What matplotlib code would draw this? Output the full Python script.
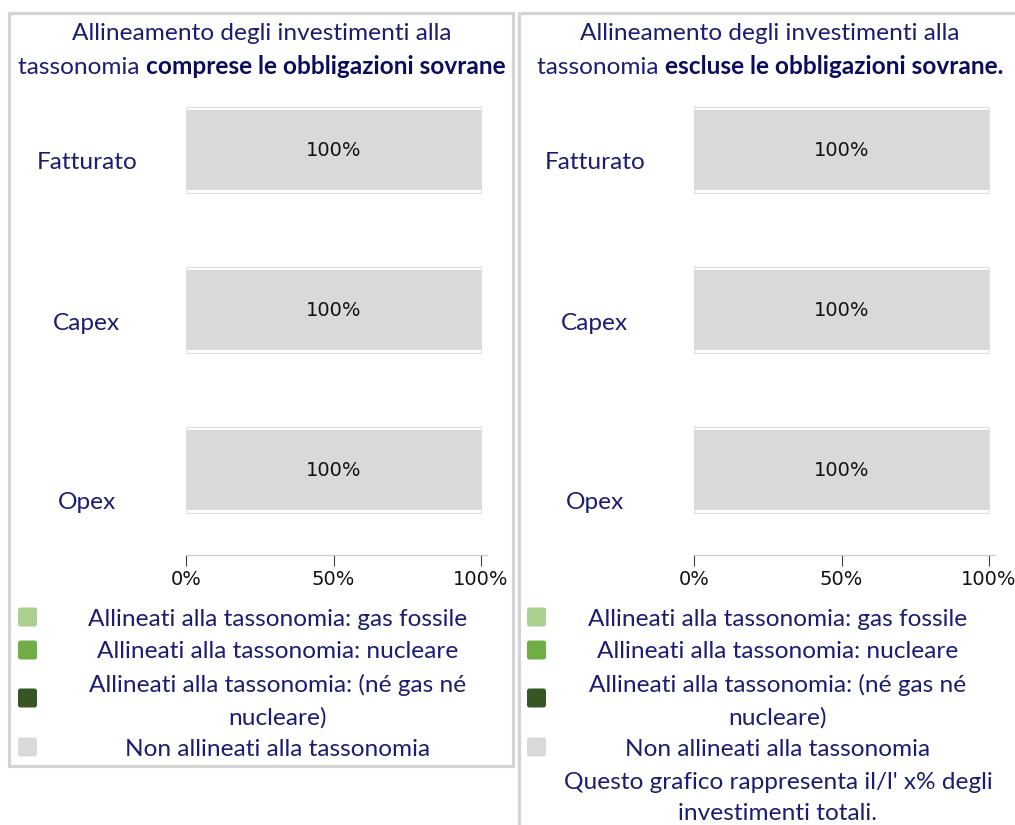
import matplotlib
matplotlib.use('Agg')
import matplotlib.pyplot as plt
from matplotlib.patches import Rectangle, FancyBboxPatch
from matplotlib.lines import Line2D
from matplotlib.transforms import ScaledTranslation, blended_transform_factory

# data
categories = ['Fatturato', 'Capex', 'Opex']
series_names = ['Allineati alla tassonomia: gas fossile',
                'Allineati alla tassonomia: nucleare',
                'Allineati alla tassonomia: (né gas né\nnucleare)',
                'Non allineati alla tassonomia']
series_colors = ['#a9d08e', '#70ad47', '#375623', '#d9d9d9']

gas_incl = [0, 0, 0]
nuc_incl = [0, 0, 0]
other_incl = [0, 0, 0]
non_incl = [100, 100, 100]

gas_excl = [0, 0, 0]
nuc_excl = [0, 0, 0]
other_excl = [0, 0, 0]
non_excl = [100, 100, 100]

xticks = [0, 50, 100]
xtick_labels = ['0%', '50%', '100%']

title_plain = 'Allineamento degli investimenti alla'
title_start = 'tassonomia '
title_bold = ['comprese le obbligazioni sovrane', 'escluse le obbligazioni sovrane.']
note = "Questo grafico rappresenta il/l' x% degli\ninvestimenti totali."

W, H = 1015, 825
NAVY = '#1c1c73'
NAVY_B = '#0c0c5c'
SANS = 'Lato'
FS = 17.6
NUM_FS = 14
BORDER = '#d3d3d3'

fig = plt.figure(figsize=(W / 100, H / 100), dpi=100)
fig.patch.set_facecolor('white')
inch = fig.dpi_scale_trans


def px(x, y):
    return x / 100, (H - y) / 100


# panel borders
fig.add_artist(Rectangle(px(9, 766), (513 - 9) / 100, (766 - 13) / 100, fill=False,
                         ec=BORDER, lw=2.3, transform=inch))
fig.add_artist(Line2D([519 / 100, 519 / 100, W / 100], [0, (H - 13) / 100, (H - 13) / 100],
                      color=BORDER, lw=2.3, transform=inch))

label_shift = [12, 13, 32]  # px offset of category labels below bar centre


def draw_panel(left_px, gas, nuc, other, non):
    ax = fig.add_axes([left_px / W, 1 - 555 / H, 301 / W, (555 - 70) / H])
    y = list(range(len(categories)))
    left = [0] * len(categories)
    for vals, col in zip([gas, nuc, other, non], series_colors):
        ax.barh(y, vals, left=left, height=0.535, color='none', edgecolor='#dedede', lw=0.8)
        bars = ax.barh(y, vals, left=left, height=0.5, color=col, edgecolor='none')
        for b, v in zip(bars, vals):
            if v > 0:
                ax.text(b.get_x() + b.get_width() / 2, b.get_y() + b.get_height() / 2 + 0.005,
                        f'{v}%', ha='center', va='center', fontsize=NUM_FS,
                        family='DejaVu Sans', color='#111111')
        left = [l + v for l, v in zip(left, vals)]
    ax.set_xlim(0, 102)
    ax.set_ylim(2.53, -0.5)
    ax.set_xticks(xticks)
    ax.set_xticklabels(xtick_labels, fontsize=NUM_FS, family='DejaVu Sans', color='#111111')
    ax.tick_params(axis='x', length=8, width=0.8, color='#404040', pad=3)
    ax.set_yticks([])
    for s in ['top', 'left', 'right']:
        ax.spines[s].set_visible(False)
    ax.spines['bottom'].set_color('#c8c8c8')
    ax.spines['bottom'].set_linewidth(0.8)
    tr = blended_transform_factory(ax.transAxes, ax.transData)
    for i, cat in enumerate(categories):
        off = ScaledTranslation(0, -label_shift[i] / 100, inch)
        ax.text(-0.33, i, cat, transform=tr + off, ha='center', va='center',
                fontsize=FS, family=SANS, color=NAVY)
    return ax


draw_panel(186, gas_incl, nuc_incl, other_incl, non_incl)
draw_panel(694, gas_excl, nuc_excl, other_excl, non_excl)

# titles
centers = [262, 770]
fig.canvas.draw()
renderer = fig.canvas.get_renderer()
for cx, bold in zip(centers, title_bold):
    fig.text(*px(cx, 34), title_plain, transform=inch, ha='center', va='center',
             fontsize=FS, family=SANS, color=NAVY)
    t1 = fig.text(0, 0, title_start, transform=inch, ha='left', va='center',
                  fontsize=FS, family=SANS, color=NAVY)
    t2 = fig.text(0, 0, bold, transform=inch, ha='left', va='center',
                  fontsize=FS, family=SANS, color=NAVY_B, weight='bold')
    w1 = t1.get_window_extent(renderer).width
    w2 = t2.get_window_extent(renderer).width
    x0 = cx - (w1 + w2) / 2
    t1.set_position(px(x0, 67))
    t2.set_position(px(x0 + w1, 67))

# legends
legend_y = [619, 652, 701, 749]
square_y = [617, 650, 698, 747]
for sq_x, cx in [(18, 278), (527, 778)]:
    for name, col, yy, sy in zip(series_names, series_colors, legend_y, square_y):
        bx, by = px(sq_x, sy + 9.5)
        fig.add_artist(FancyBboxPatch((bx, by), 0.19, 0.19,
                                      boxstyle='round,pad=0,rounding_size=0.025',
                                      fc=col, ec='none', transform=inch))
        fig.text(*px(cx, yy), name, transform=inch, ha='center', va='center',
                 fontsize=FS, family=SANS, color=NAVY, linespacing=1.62)

fig.text(*px(778, 798), note, transform=inch, ha='center', va='center',
         fontsize=FS, family=SANS, color=NAVY, linespacing=1.62)

fig.savefig('out.png', dpi=100)
